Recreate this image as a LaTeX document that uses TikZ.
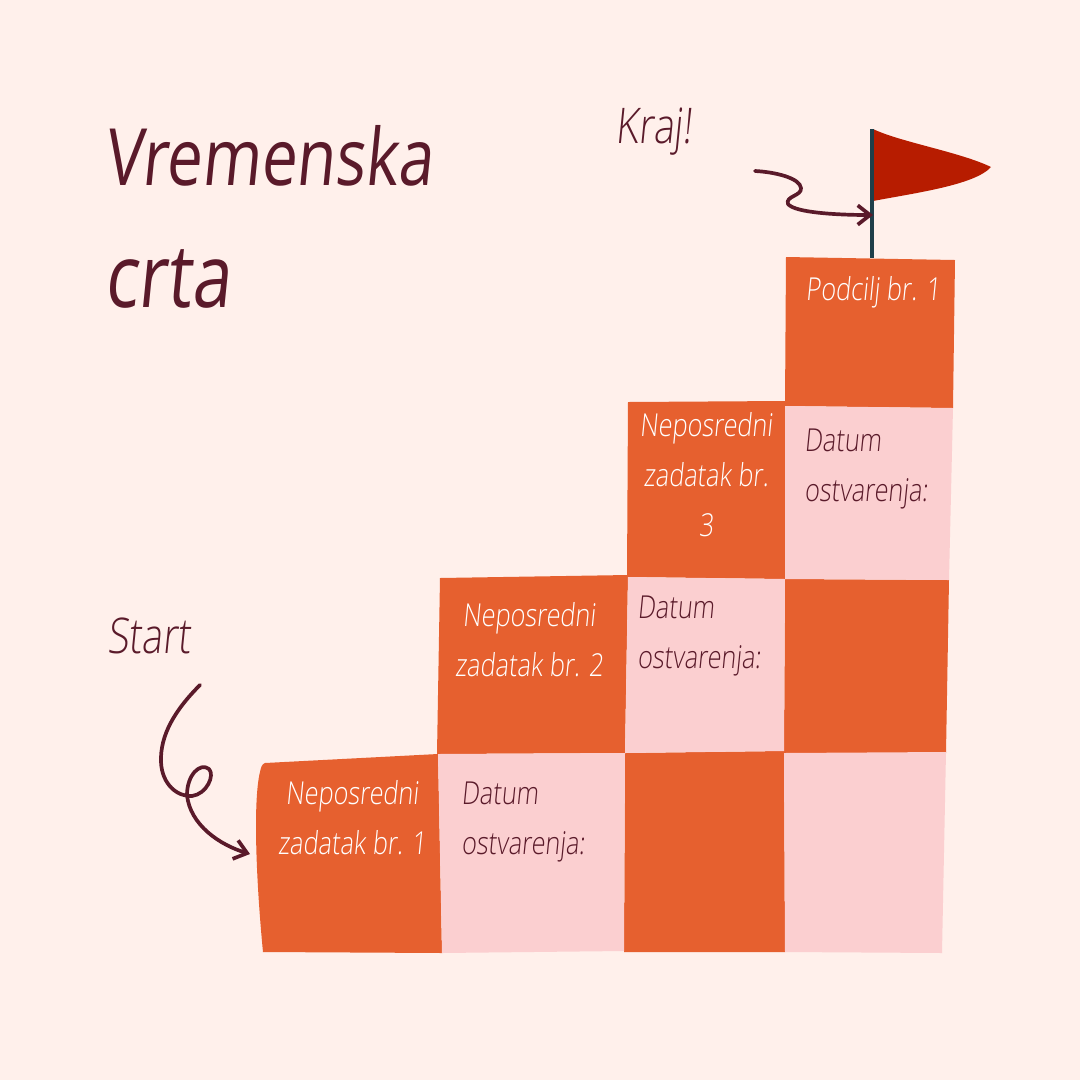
\documentclass[tikz,border=0pt]{standalone}
\usepackage{fontspec}
\setmainfont{Open Sans Light}[FakeSlant=0.1,FakeStretch=0.8]
\newfontfamily\titlefont{Open Sans}[FakeSlant=0.1,FakeStretch=0.8]
\usetikzlibrary{arrows.meta}
\definecolor{bgpink}{HTML}{FFF0EB}
\definecolor{brick}{HTML}{E6602F}
\definecolor{blush}{HTML}{FBCFD0}
\definecolor{wine}{HTML}{5A1A2A}
\definecolor{flagred}{HTML}{B71C00}
\definecolor{pole}{HTML}{1F3F4A}
\begin{document}
\begin{tikzpicture}[x=0.02cm,y=-0.02cm,
	whitetxt/.style = {text=white,align=center,font=\fontsize{18}{28.5}\selectfont},
	winetxt/.style = {text=wine,align=left,font=\fontsize{18}{28.5}\selectfont},
	bigtxt/.style = {anchor=base west,text=wine,font=\titlefont\fontsize{45}{45}\selectfont},
	sidetxt/.style = {text=wine,font=\fontsize{28}{28}\selectfont},
	curve/.style = {draw=wine,line width=2.1pt,line cap=round,line join=round}]
	\useasboundingbox (0,0) rectangle (1080,1080);
	\fill[bgpink] (0,0) rectangle (1080,1080);
	% orange cells
	\begin{scope}[every path/.style={fill=brick}]
		\path (265,763) -- (438,754) -- (442,953) -- (263,952) .. controls (256,880) and (253,800) .. (260,772) .. controls (261,767) and (262,764) .. (265,763) -- cycle;
		\path (440,578) -- (628,575) -- (625,753) -- (437,754) -- cycle;
		\path (628,402) -- (785,401) -- (785,579) -- (627,577) -- cycle;
		\path (786,257) -- (955,260) -- (953,408) -- (785,406) -- cycle;
		\path (785,579) -- (949,580) -- (946,753) -- (784,753) -- cycle;
		\path (625,753) -- (784,751) -- (785,952) -- (624,952) -- cycle;
	\end{scope}
	% pink cells
	\begin{scope}[every path/.style={fill=blush}]
		\path (438,754) -- (625,753) -- (624,951) -- (442,953) -- cycle;
		\path (628,577) -- (785,579) -- (784,751) -- (625,753) -- cycle;
		\path (785,406) -- (953,408) -- (949,580) -- (785,579) -- cycle;
		\path (784,753) -- (946,752) -- (942,953) -- (785,952) -- cycle;
	\end{scope}
	% flag
	\fill[flagred] (873,129) .. controls (900,142) and (960,152) .. (991,167) .. controls (975,185) and (915,193) .. (873,201) -- cycle;
	\draw[pole,line width=2.2pt] (872,129) -- (872,258);
	% labels
	\node[bigtxt] (naslov) at (98,185) {Vremenska};
	\node[bigtxt,font=\titlefont\fontsize{50}{50}\selectfont] (crta) at (98,307) {crta};
	\node[sidetxt] (kraj) at (654,132) {Kraj!};
	\node[sidetxt] (start) at (149,636) {Start};
	\node[whitetxt] (n1) at (352,818) {Neposredni\\zadatak br. 1};
	\node[whitetxt] (n2) at (529,640) {Neposredni\\zadatak br. 2};
	\node[whitetxt] (n3) at (706,475) {Neposredni\\zadatak br.\\3};
	\node[whitetxt] (p1) at (873,292) {Podcilj br. 1};
	\node[winetxt] (d1) at (523,822) {Datum\\ostvarenja:};
	\node[winetxt] (d2) at (699,636) {Datum\\ostvarenja:};
	\node[winetxt] (d3) at (866,469) {Datum\\ostvarenja:};
	% arrows
	\coordinate (s0) at (200,685);
	\coordinate (s1) at (250,854);
	\coordinate (k0) at (755,171);
	\coordinate (k1) at (873,215);
	\draw[curve,-{Straight Barb[length=7pt,width=11pt]}] (s0) .. controls (175,710) and (160,735) .. (161,762) .. controls (162,785) and (178,797) .. (192,796) .. controls (207,794) and (215,775) .. (209,769) .. controls (200,762) and (187,775) .. (187,795) .. controls (190,825) and (220,845) .. (s1);
	\draw[curve,-{Straight Barb[length=7pt,width=11pt]}] (k0) .. controls (775,172) and (800,178) .. (801,188) .. controls (802,196) and (785,196) .. (788,204) .. controls (795,213) and (840,215) .. (k1);
\end{tikzpicture}
\end{document}
